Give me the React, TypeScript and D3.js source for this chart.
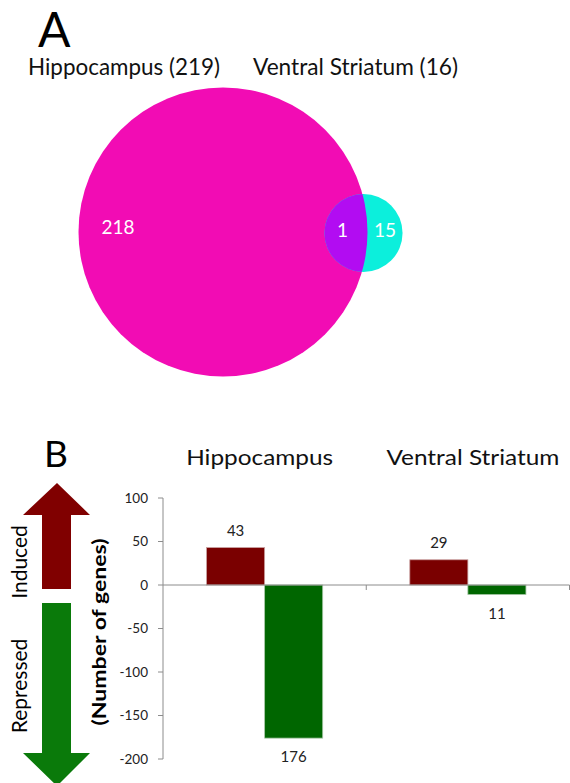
import React from "react";
import * as d3 from "d3";

// Venn counts
const setNames = ["Hippocampus", "Ventral Striatum"];
const setTotals = [219, 16];
const overlapCount = 1;

// Bar chart data
const categories = ["Hippocampus", "Ventral Striatum"];
const induced = [43, 29];
const repressed = [176, 11];
const yTicks = [100, 50, 0, -50, -100, -150, -200];

const FONT = "Lato, 'Open Sans', 'DejaVu Sans', sans-serif";
const MAGENTA = "#f20cb4";
const CYAN = "#0cefdc";
const PURPLE = "#b20cf2";
const RED = "#7a0000";
const GREEN = "#006600";
const AXIS = "#8c8c8c";

// header widths per category (text box widths)
const headerWidths = [147, 173];

export default function App() {
  // ---- Venn layout ----
  const r = d3.scaleSqrt().domain([0, setTotals[0]]).range([0, 144.5]);
  const rA = r(setTotals[0]);
  const rB = r(setTotals[1]);
  const cA = { x: 223, y: 232 };
  const cB = { x: 363.5, y: 233 };

  // ---- Bar chart layout ----
  const y = d3.scaleLinear().domain([-200, 100]).range([759, 498]);
  const x = d3.scaleBand<string>().domain(categories).range([163, 569.5]);
  const bw = x.bandwidth();
  const barW = bw / 3.5;
  const zero = y(0);

  return (
    <svg
      width={570}
      height={783}
      style={{ position: "absolute", left: 0, top: 0, background: "#fff" }}
      fontFamily={FONT}
    >
      <defs>
        <clipPath id="clipB">
          <circle cx={cB.x} cy={cB.y} r={rB} />
        </clipPath>
      </defs>

      {/* Panel A */}
      <text x={38} y={47} fontSize={48} fill="#000">A</text>
      <text x={28} y={75} fontSize={23} fill="#111" textLength={192} lengthAdjust="spacingAndGlyphs">
        {`${setNames[0]} (${setTotals[0]})`}
      </text>
      <text x={253} y={75} fontSize={23} fill="#111" textLength={205} lengthAdjust="spacingAndGlyphs">
        {`${setNames[1]} (${setTotals[1]})`}
      </text>

      <circle cx={cA.x} cy={cA.y} r={rA} fill={MAGENTA} />
      <circle cx={cB.x} cy={cB.y} r={rB} fill={CYAN} />
      <circle cx={cA.x} cy={cA.y} r={rA} fill={PURPLE} clipPath="url(#clipB)" />

      <text x={118} y={234} fontSize={19} fill="#fff" textAnchor="middle">
        {setTotals[0] - overlapCount}
      </text>
      <text x={342.5} y={237} fontSize={19} fill="#fff" textAnchor="middle">
        {overlapCount}
      </text>
      <text x={385} y={237} fontSize={19} fill="#fff" textAnchor="middle">
        {setTotals[1] - overlapCount}
      </text>

      {/* Panel B */}
      <text x={44} y={467} fontSize={37} fill="#000">B</text>

      {/* Direction arrows */}
      <path
        d="M57,483 L90,515 L71,515 L71,589 L42,589 L42,515 L23,515 Z"
        fill="#800000"
      />
      <path
        d="M42,603 L71,603 L71,753 L90,753 L57,786 L23,753 L42,753 Z"
        fill="#0a7a0a"
      />
      <text transform="translate(26.5,562) rotate(-90)" fontSize={21} fill="#000" textAnchor="middle">
        Induced
      </text>
      <text transform="translate(26.5,686) rotate(-90)" fontSize={21} fill="#000" textAnchor="middle">
        Repressed
      </text>
      <text
        transform="translate(106,632) rotate(-90)"
        fontSize={19}
        fontWeight="bold"
        fill="#000"
        textAnchor="middle"
        textLength={187}
        lengthAdjust="spacingAndGlyphs"
      >
        (Number of genes)
      </text>

      {/* Category headers */}
      {categories.map((c, i) => (
        <text
          key={c}
          x={x(c)! + bw / 2 - 5 - headerWidths[i] / 2 + (i === 1 ? 10 : 0)}
          y={465}
          fontSize={22}
          fill="#111"
          textLength={headerWidths[i]}
          lengthAdjust="spacingAndGlyphs"
        >
          {c}
        </text>
      ))}

      {/* Y axis */}
      <line x1={163} x2={163} y1={y(100)} y2={y(-200)} stroke={AXIS} strokeWidth={1} />
      {yTicks.map((t) => (
        <g key={t}>
          <line x1={158} x2={163} y1={y(t)} y2={y(t)} stroke={AXIS} strokeWidth={1} />
          <text x={148} y={y(t) + 4.5} fontSize={13.5} fill="#222" textAnchor="end">
            {t}
          </text>
        </g>
      ))}

      {/* Bars */}
      {categories.map((c, i) => {
        const cx = x(c)! + bw / 2;
        return (
          <g key={c}>
            <rect
              x={cx - barW}
              y={y(induced[i])}
              width={barW}
              height={zero - y(induced[i])}
              fill={RED}
              stroke="#c9a0a0"
              strokeWidth={0.8}
            />
            <rect
              x={cx}
              y={zero}
              width={barW}
              height={y(-repressed[i]) - zero}
              fill={GREEN}
              stroke="#a8c8a8"
              strokeWidth={0.8}
            />
            <text x={cx - barW / 2} y={y(induced[i]) - 12} fontSize={15} fill="#222" textAnchor="middle">
              {induced[i]}
            </text>
            <text x={cx + barW / 2} y={y(-repressed[i]) + 24} fontSize={15} fill="#222" textAnchor="middle">
              {repressed[i]}
            </text>
          </g>
        );
      })}

      {/* Category axis at zero */}
      <line x1={163} x2={569.5} y1={zero} y2={zero} stroke={AXIS} strokeWidth={1} />
      {categories.map((c) => (
        <line
          key={c}
          x1={x(c)! + bw}
          x2={x(c)! + bw}
          y1={zero}
          y2={zero + 5}
          stroke={AXIS}
          strokeWidth={1}
        />
      ))}
    </svg>
  );
}
